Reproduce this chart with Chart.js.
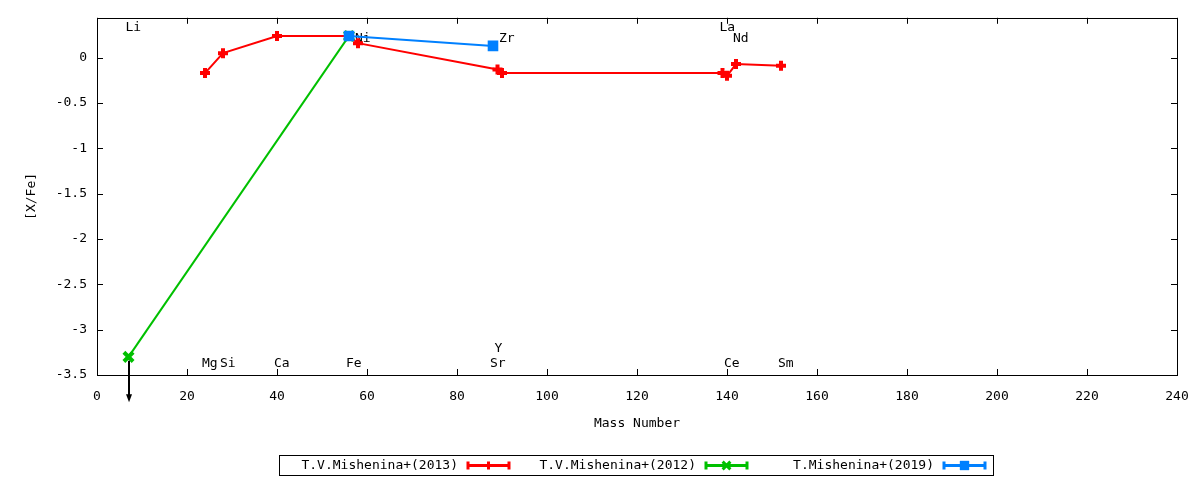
<!DOCTYPE html>
<html>
<head>
<meta charset="utf-8">
<title>[X/Fe] vs Mass Number</title>
<script src="https://cdn.jsdelivr.net/npm/chart.js@4.4.1/dist/chart.umd.min.js"></script>
<style>
  html, body { margin: 0; padding: 0; background: #fff; }
  #wrap { width: 1200px; height: 480px; position: relative; }
</style>
</head>
<body>
<div id="wrap"><canvas id="myChart"></canvas></div>
<script>
// T.V.Mishenina+(2013)
const mass2013 = [24, 28, 40, 56, 58, 89, 90, 139, 140, 142, 152];
const xfe2013 = [-0.17, 0.05, 0.24, 0.24, 0.16, -0.13, -0.17, -0.17, -0.20, -0.07, -0.09];
// T.V.Mishenina+(2012) - Li is an upper limit
const mass2012 = [7, 56];
const xfe2012 = [-3.30, 0.24];
const limitMass = [7];
const limitFrom = [-3.30];
const limitTo = [-3.80];
// T.Mishenina+(2019)
const mass2019 = [56, 88];
const xfe2019 = [0.24, 0.13];

const legendLabels = ["T.V.Mishenina+(2013)", "T.V.Mishenina+(2012)", "T.Mishenina+(2019)"];

// element labels
const elemNames = ["Li", "La", "Ni", "Zr", "Nd", "Mg", "Si", "Ca", "Fe", "Sr", "Ce", "Sm", "Y"];
const elemMass = [7, 139, 58, 90, 142, 24, 28, 40, 56, 88, 140, 152, 89];
const elemLevel = [0.33, 0.33, 0.21, 0.21, 0.21, -3.37, -3.37, -3.37, -3.37, -3.37, -3.37, -3.37, -3.21];

const xTicks = [0, 20, 40, 60, 80, 100, 120, 140, 160, 180, 200, 220, 240];
const yTicks = [-3.5, -3, -2.5, -2, -1.5, -1, -0.5, 0];

const FONT = "'DejaVu Sans Mono', monospace";
const RED = "#ff0000", GREEN = "#00c000", BLUE = "#0080ff";

function pts(xs, ys) {
  return xs.map((x, i) => ({ x: x, y: ys[i] }));
}

const gnuplotDecor = {
  id: "gnuplotDecor",
  beforeDatasetsDraw(chart) {
    const ctx = chart.ctx, xs = chart.scales.x, ys = chart.scales.y;
    const a = chart.chartArea;
    ctx.save();
    // border + inward ticks
    ctx.strokeStyle = "#000";
    ctx.lineWidth = 1;
    ctx.strokeRect(Math.round(a.left) + 0.5, Math.round(a.top) + 0.5,
      Math.round(a.right - a.left), Math.round(a.bottom - a.top));
    ctx.beginPath();
    xTicks.forEach(v => {
      const px = Math.round(xs.getPixelForValue(v)) + 0.5;
      ctx.moveTo(px, a.bottom); ctx.lineTo(px, a.bottom - 6);
      ctx.moveTo(px, a.top); ctx.lineTo(px, a.top + 6);
    });
    yTicks.forEach(v => {
      const py = Math.round(ys.getPixelForValue(v)) + 0.5;
      ctx.moveTo(a.left, py); ctx.lineTo(a.left + 6, py);
      ctx.moveTo(a.right, py); ctx.lineTo(a.right - 6, py);
    });
    ctx.stroke();
    // element labels (under the data)
    ctx.fillStyle = "#000";
    ctx.font = "13px " + FONT;
    ctx.textAlign = "left";
    ctx.textBaseline = "middle";
    elemNames.forEach((n, i) => {
      ctx.fillText(n, xs.getPixelForValue(elemMass[i]) - 3, ys.getPixelForValue(elemLevel[i]));
    });
    // axis titles
    ctx.textAlign = "center";
    ctx.fillText("Mass Number", (a.left + a.right) / 2, 424);
    ctx.save();
    ctx.translate(32, (a.top + a.bottom) / 2);
    ctx.rotate(-Math.PI / 2);
    ctx.fillText("[X/Fe]", 0, 0);
    ctx.restore();
    ctx.restore();
  },
  afterDatasetsDraw(chart) {
    const ctx = chart.ctx, xs = chart.scales.x, ys = chart.scales.y;
    ctx.save();
    // upper limit arrows
    ctx.strokeStyle = "#000";
    ctx.fillStyle = "#000";
    ctx.lineWidth = 2;
    limitMass.forEach((m, i) => {
      const px = Math.round(xs.getPixelForValue(m));
      const y0 = ys.getPixelForValue(limitFrom[i]) + 4;
      const y1 = ys.getPixelForValue(limitTo[i]);
      ctx.beginPath();
      ctx.moveTo(px, y0); ctx.lineTo(px, y1 - 6);
      ctx.stroke();
      ctx.beginPath();
      ctx.moveTo(px - 3, y1 - 8);
      ctx.lineTo(px + 3, y1 - 8);
      ctx.lineTo(px, y1);
      ctx.closePath();
      ctx.fill();
    });
    // legend, gnuplot style
    const boxL = 279, boxT = 455, boxW = 714, boxH = 20;
    ctx.lineWidth = 1;
    ctx.strokeRect(boxL + 0.5, boxT + 0.5, boxW, boxH);
    ctx.font = "13px " + FONT;
    ctx.textAlign = "right";
    ctx.textBaseline = "middle";
    const cy = boxT + boxH / 2 + 0.5;
    chart.data.datasets.forEach((ds, i) => {
      const textR = 458 + i * 238;
      ctx.fillStyle = "#000";
      ctx.fillText(legendLabels[i], textR, cy);
      const s0 = textR + 9, s1 = textR + 52, mid = (s0 + s1) / 2;
      ctx.strokeStyle = ds.borderColor;
      ctx.fillStyle = ds.borderColor;
      ctx.lineWidth = 3;
      ctx.beginPath();
      ctx.moveTo(s0, cy); ctx.lineTo(s1, cy);
      ctx.moveTo(s0 + 1, cy - 4); ctx.lineTo(s0 + 1, cy + 4);
      ctx.moveTo(s1 - 1, cy - 4); ctx.lineTo(s1 - 1, cy + 4);
      ctx.stroke();
      Chart.helpers.drawPoint(ctx, {
        pointStyle: ds.pointStyle, radius: ds.pointRadius - 1,
        borderWidth: ds.pointBorderWidth, rotation: 0
      }, mid, cy);
      ctx.fill();
    });
    ctx.restore();
  }
};

const ctx = document.getElementById("myChart");

new Chart(ctx, {
  type: "scatter",
  data: {
    datasets: [
      {
        label: legendLabels[0],
        data: pts(mass2013, xfe2013),
        showLine: true,
        borderColor: RED,
        backgroundColor: RED,
        borderWidth: 2,
        pointStyle: "cross",
        pointRadius: 5,
        pointBorderWidth: 4,
        order: 3,
      },
      {
        label: legendLabels[1],
        data: pts(mass2012, xfe2012),
        showLine: true,
        borderColor: GREEN,
        backgroundColor: GREEN,
        borderWidth: 2,
        pointStyle: "crossRot",
        pointRadius: 6.5,
        pointBorderWidth: 4,
        order: 2,
      },
      {
        label: legendLabels[2],
        data: pts(mass2019, xfe2019),
        showLine: true,
        borderColor: BLUE,
        backgroundColor: BLUE,
        borderWidth: 2,
        pointStyle: "rect",
        pointRadius: 7.5,
        pointBorderWidth: 0,
        order: 1,
      },
    ],
  },
  options: {
    responsive: true,
    maintainAspectRatio: false,
    animation: false,
    devicePixelRatio: 1,
    layout: { autoPadding: false, padding: { top: 17, right: 23, left: 0, bottom: 0 } },
    plugins: {
      legend: { display: false },
      tooltip: { enabled: false },
    },
    scales: {
      x: {
        type: "linear",
        min: 0,
        max: 240,
        grid: { display: false, drawTicks: false },
        border: { display: false },
        afterFit: s => { s.height = 105; s.paddingLeft = 0; s.paddingRight = 12; },
        afterBuildTicks: s => { s.ticks = xTicks.map(v => ({ value: v })); },
        ticks: {
          padding: 14,
          maxRotation: 0,
          autoSkip: false,
          color: "#000",
          font: { family: FONT, size: 13 },
          callback: v => String(v),
        },
      },
      y: {
        type: "linear",
        min: -3.5,
        max: 0.44,
        grid: { display: false, drawTicks: false },
        border: { display: false },
        afterFit: s => { s.width = 97; },
        afterBuildTicks: s => { s.ticks = yTicks.map(v => ({ value: v })); },
        ticks: {
          padding: 10,
          autoSkip: false,
          color: "#000",
          font: { family: FONT, size: 13 },
          callback: v => String(+v.toFixed(1)),
        },
      },
    },
  },
  plugins: [gnuplotDecor],
});
</script>
</body>
</html>
